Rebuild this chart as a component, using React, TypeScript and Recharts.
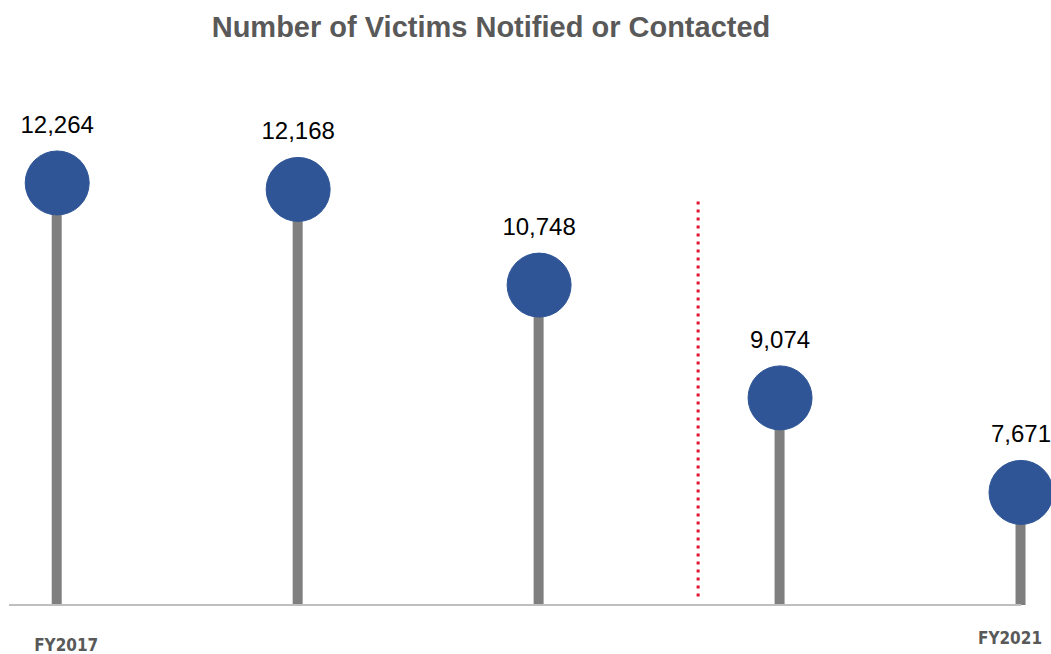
import { ComposedChart, Bar, Line, XAxis, YAxis, LabelList, ReferenceLine } from 'recharts'

const years = ['FY2017', 'FY2018', 'FY2019', 'FY2020', 'FY2021']
const victims = [12264, 12168, 10748, 9074, 7671]
const shownTicks = ['FY2017', 'FY2021']

const data = years.map((year, i) => ({ idx: i, year, value: victims[i] }))

const fmt = (v: number) => v.toLocaleString('en-US')

function YearTick(props: any) {
  const { x, y, payload } = props
  const label = years[payload.value]
  if (!shownTicks.includes(label)) return null
  const first = payload.value === 0
  return (
    <text
      x={x + (first ? 9 : -11)}
      y={y + (first ? 38 : 31)}
      textAnchor="middle"
      fill="#595959"
      fontSize={17}
      fontWeight={700}
      fontFamily="'Liberation Sans Narrow', 'DejaVu Sans Condensed', Arial, sans-serif"
    >
      {label}
    </text>
  )
}

export default function App() {
  return (
    <div style={{ position: 'absolute', left: 0, top: 0, width: 1051, height: 654, background: '#fff' }}>
      <div
        style={{
          position: 'absolute',
          left: 0,
          top: 11,
          width: 982,
          textAlign: 'center',
          fontFamily: "'Liberation Sans', Arial, sans-serif",
          fontSize: 29,
          fontWeight: 700,
          color: '#595959',
        }}
      >
        Number of Victims Notified or Contacted
      </div>
      <ComposedChart width={1051} height={654} data={data} margin={{ top: 66, right: 30, bottom: 48, left: 9 }}>
        <XAxis
          dataKey="idx"
          type="number"
          domain={[-0.2, 4]}
          ticks={[0, 4]}
          tick={<YearTick />}
          tickLine={false}
          axisLine={{ stroke: '#bfbfbf', strokeWidth: 2 }}
          height={1}
        />
        <YAxis type="number" domain={[6000, 14000]} hide />
        <ReferenceLine
          segment={[{ x: 2.66, y: 11990 }, { x: 2.66, y: 6110 }]}
          stroke="#e0102f"
          strokeWidth={3}
          strokeDasharray="3 5"
        />
        <Bar dataKey="value" fill="#7f7f7f" barSize={10} isAnimationActive={false} />
        <Line
          dataKey="value"
          stroke="none"
          dot={{ r: 32, fill: '#2f5597', stroke: '#2f5597', strokeWidth: 1 }}
          activeDot={false}
          isAnimationActive={false}
        >
          <LabelList
            dataKey="value"
            position="top"
            offset={50}
            formatter={(v: any) => fmt(Number(v))}
            fill="#000"
            fontSize={24}
            fontFamily="'Liberation Sans', Arial, sans-serif"
          />
        </Line>
      </ComposedChart>
    </div>
  )
}
